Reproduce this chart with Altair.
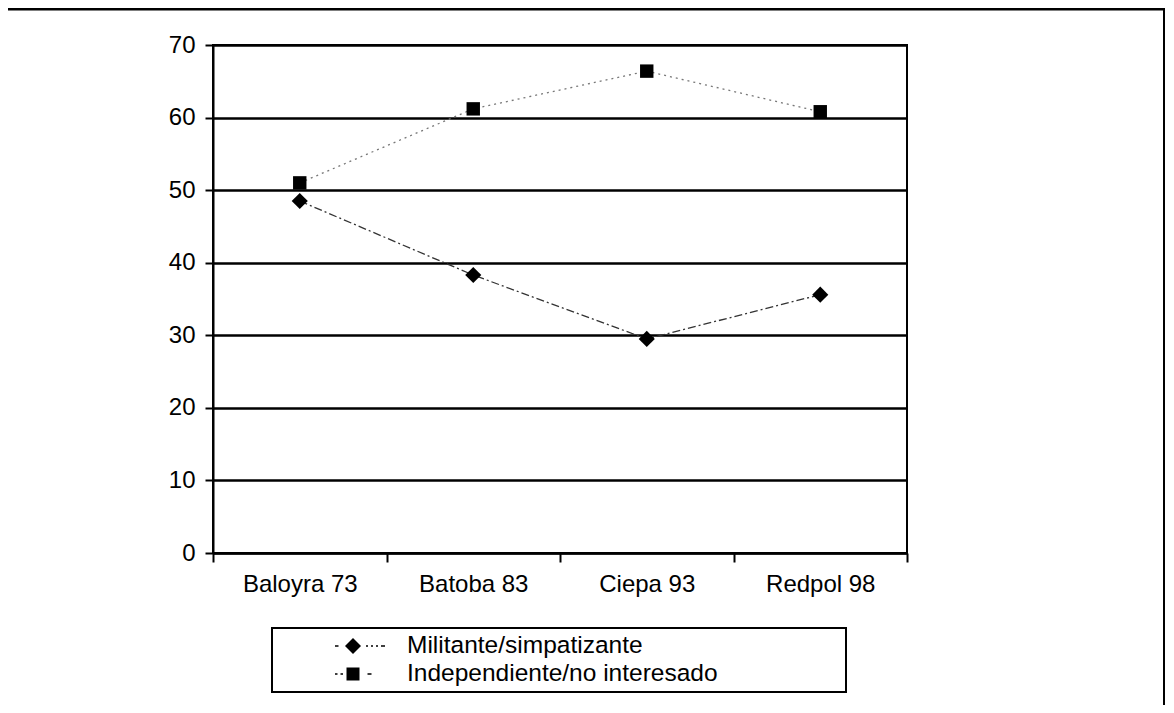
import altair as alt
import pandas as pd

categories = ["Baloyra 73", "Batoba 83", "Ciepa 93", "Redpol 98"]
series_names = ["Militante/simpatizante", "Independiente/no interesado"]
militante = [48.5, 38.3, 29.5, 35.6]
independiente = [51.0, 61.2, 66.4, 60.8]
y_ticks = [0, 10, 20, 30, 40, 50, 60, 70]

rows = []
for c, m, i in zip(categories, militante, independiente):
    rows.append({"cat": c, "serie": series_names[0], "valor": m})
    rows.append({"cat": c, "serie": series_names[1], "valor": i})
df = pd.DataFrame(rows)

FONT = "Liberation Sans"

x_enc = alt.X(
    "cat:N",
    sort=categories,
    scale=alt.Scale(type="band", paddingInner=0, paddingOuter=0),
    axis=alt.Axis(
        title=None, labelAngle=0, tickBand="extent", tickSize=9, tickWidth=2,
        tickColor="black", domainColor="black", domainWidth=2,
        labelFontSize=24, labelPadding=10, labelColor="black", labelFont=FONT,
    ),
)
y_enc = alt.Y(
    "valor:Q",
    scale=alt.Scale(domain=[0, 70], nice=False),
    axis=alt.Axis(
        values=y_ticks, title=None, grid=True, gridColor="black", gridWidth=2.5,
        tickSize=8, tickWidth=2, tickColor="black", domainColor="black",
        domainWidth=2, labelFontSize=24, labelPadding=10, labelColor="black",
        labelFont=FONT,
    ),
)

lines = alt.Chart(df).mark_line(strokeWidth=1.3).encode(
    x=x_enc,
    y=y_enc,
    strokeDash=alt.StrokeDash(
        "serie:N",
        scale=alt.Scale(domain=series_names, range=[[8, 3, 2, 3], [2, 4]]),
        legend=None,
    ),
    color=alt.Color(
        "serie:N",
        scale=alt.Scale(domain=series_names, range=["#333333", "#777777"]),
        legend=None,
    ),
)

points = alt.Chart(df).mark_point(filled=True, opacity=1, color="black").encode(
    x=x_enc,
    y=y_enc,
    shape=alt.Shape(
        "serie:N",
        scale=alt.Scale(domain=series_names, range=["diamond", "square"]),
        legend=None,
    ),
    size=alt.Size(
        "serie:N",
        scale=alt.Scale(domain=series_names, range=[260, 180]),
        legend=None,
    ),
)


def dash(a, b, h=0.028):
    return f"M{a},{-h}H{b}V{h}H{a}Z "


path_mil = (dash(-1, -0.86) + "M-0.28,-0.32L0.04,0L-0.28,0.32L-0.6,0Z "
            + dash(0.24, 0.32) + dash(0.44, 0.52) + dash(0.64, 0.72) + dash(0.84, 1))
path_ind = (dash(-1, -0.9) + dash(-0.78, -0.68)
            + "M-0.54,-0.26H-0.02V0.26H-0.54Z " + dash(0.3, 0.46))

legend_layer = alt.Chart(df).mark_point(
    filled=True, color="black", opacity=0
).encode(
    x=x_enc,
    y=y_enc,
    shape=alt.Shape(
        "serie:N",
        scale=alt.Scale(domain=series_names, range=[path_mil, path_ind]),
        legend=alt.Legend(
            title="MMMMMMM", titleOrient="right", titleOpacity=0,
            titlePadding=0, titleFontSize=21, titleFont=FONT, titleLimit=1000,
            orient="none", legendX=59, legendY=583,
            direction="vertical", symbolSize=2500, symbolOpacity=1,
            symbolFillColor="black", symbolStrokeColor="black",
            symbolStrokeWidth=0, clipHeight=26, rowPadding=2, padding=5,
            symbolOffset=58, labelOffset=22, labelFontSize=24.5, labelFont=FONT,
            labelColor="black", labelLimit=900, strokeColor="black",
        ),
    ),
)

frame_df = pd.DataFrame({"k": [0]})
frame_top = alt.Chart(frame_df).mark_rule(color="black", strokeWidth=3).encode(
    x=alt.value(-205), x2=alt.value(952), y=alt.value(-36)
)
frame_right = alt.Chart(frame_df).mark_rule(color="black", strokeWidth=2).encode(
    x=alt.value(951), y=alt.value(-37), y2=alt.value(700)
)

chart = (
    alt.layer(lines, points, legend_layer, frame_top, frame_right)
    .resolve_scale(shape="independent")
    .properties(
        width=694,
        height=508,
        autosize=alt.AutoSizeParams(type="none"),
        padding={"left": 205, "top": 37, "right": 259, "bottom": 152},
        background="white",
    )
    .configure_view(stroke="black", strokeWidth=2)
    .configure_legend(strokeWidth=2)
)

chart.save("out.html", embed_options={"renderer": "svg", "actions": False})
